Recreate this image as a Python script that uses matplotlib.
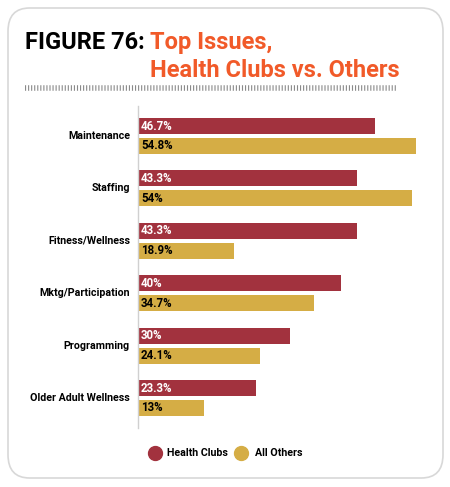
import matplotlib
matplotlib.use("Agg")
import matplotlib.pyplot as plt
from matplotlib.patches import FancyBboxPatch

categories = ["Maintenance", "Staffing", "Fitness/Wellness", "Mktg/Participation", "Programming", "Older Adult Wellness"]
health_clubs = [46.7, 43.3, 43.3, 40, 30, 23.3]
all_others = [54.8, 54, 18.9, 34.7, 24.1, 13]
hc_labels = ["46.7%", "43.3%", "43.3%", "40%", "30%", "23.3%"]
ao_labels = ["54.8%", "54%", "18.9%", "34.7%", "24.1%", "13%"]

RED = "#A2323E"
GOLD = "#D5AD45"
ORANGE = "#F15A29"
FONT = "Roboto"

W, H = 450, 487
fig = plt.figure(figsize=(W/100, H/100), dpi=100)
fig.patch.set_facecolor("white")

# rounded frame
box = FancyBboxPatch((8/W, 9/H), 435/W, 470/H, boxstyle="round,pad=0,rounding_size=0.048",
                     transform=fig.transFigure, facecolor="white", edgecolor="#D8D8D8", lw=1.2, zorder=-5)
fig.patches.append(box)

# title
fig.text(25/W, 1-49/H, "FIGURE 76:", fontsize=17, fontweight="bold", family=FONT, color="black", va="baseline")
fig.text(150/W, 1-49/H, "Top Issues,", fontsize=17, fontweight="bold", family=FONT, color=ORANGE, va="baseline")
fig.text(150/W, 1-77/H, "Health Clubs vs. Others", fontsize=17, fontweight="bold", family=FONT, color=ORANGE, va="baseline")
fig.add_artist(plt.Line2D([25/W, 397/W], [1-88/H, 1-88/H], transform=fig.transFigure,
                          color="#8A8A8A", lw=4, dashes=(0.2, 0.35)))

ax = fig.add_axes([138/W, 1-428/H, 304/W, 322/H])
ax.set_xlim(0, 60)
ax.set_ylim(5.573, -0.573)
bh = 0.305
off = 0.19
for i in range(len(categories)):
    ax.barh(i - off, health_clubs[i], height=bh, color=RED)
    ax.barh(i + off, all_others[i], height=bh, color=GOLD)
    ax.text(0.6, i - off, hc_labels[i], color="white", fontsize=8.3, fontweight="bold", family=FONT, va="center", ha="left")
    ax.text(0.6, i + off, ao_labels[i], color="black", fontsize=8.3, fontweight="bold", family=FONT, va="center", ha="left")
    ax.text(-1.6, i, categories[i], color="black", fontsize=7.7, fontweight="bold", family=FONT, va="center", ha="right")

for s in ["top", "right", "bottom"]:
    ax.spines[s].set_visible(False)
ax.spines["left"].set_color("#D0D0D0")
ax.spines["left"].set_linewidth(1)
ax.set_xticks([])
ax.set_yticks([])
ax.patch.set_alpha(0)

# legend
fig.add_artist(plt.Line2D([155/W], [1-453/H], marker="o", markersize=10, color=RED, transform=fig.transFigure))
fig.text(167/W, 1-453/H, "Health Clubs", fontsize=7.7, fontweight="bold", family=FONT, va="center")
fig.add_artist(plt.Line2D([241/W], [1-453/H], marker="o", markersize=10, color=GOLD, transform=fig.transFigure))
fig.text(255/W, 1-453/H, "All Others", fontsize=7.7, fontweight="bold", family=FONT, va="center")

fig.savefig("out.png", dpi=100)
